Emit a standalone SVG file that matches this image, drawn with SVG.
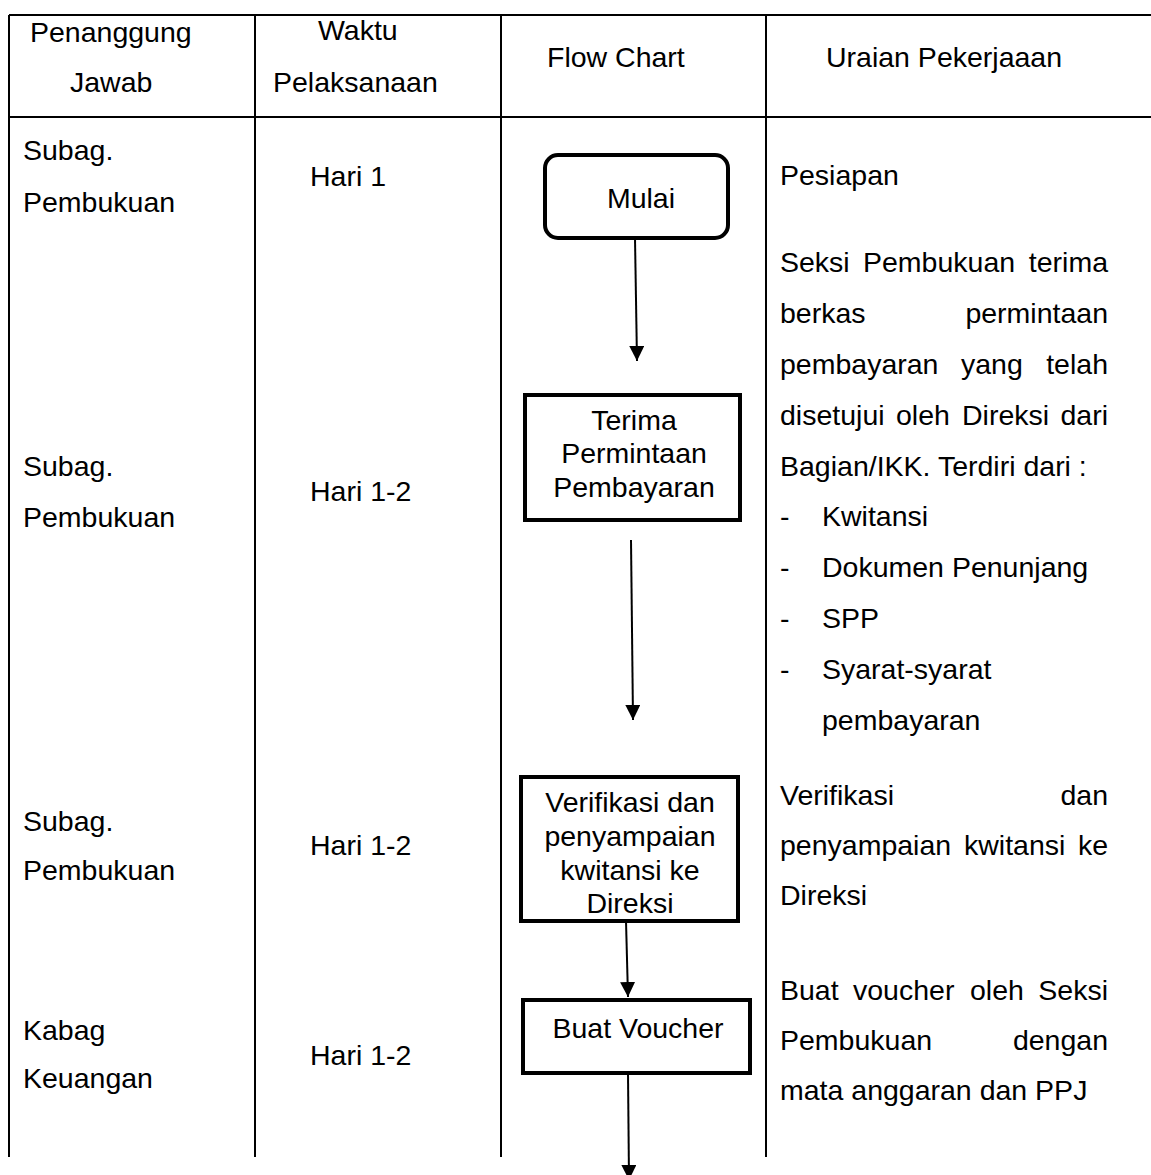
<svg xmlns="http://www.w3.org/2000/svg" width="1151" height="1175" viewBox="0 0 1151 1175">
<style>
.t{font-family:"Liberation Sans",Arial,sans-serif;font-size:28.5px;fill:#000}
.m{text-anchor:middle}
.e{text-anchor:end}
.grid{stroke:#000;stroke-width:2;fill:none}
.box{fill:#fff;stroke:#000;stroke-width:4}
.conn{stroke:#000;stroke-width:2;fill:none}
</style>
<defs>
<marker id="ah" markerUnits="userSpaceOnUse" markerWidth="16" markerHeight="16" refX="15" refY="7.5" orient="auto">
<path d="M0,0 L15,7.5 L0,15 z" fill="#000"/>
</marker>
</defs>
<rect width="1151" height="1175" fill="#fff"/>
<g id="table" class="grid">
<line x1="9" y1="15" x2="1151" y2="15"/>
<line x1="9" y1="117" x2="1151" y2="117"/>
<line x1="9" y1="15" x2="9" y2="1157"/>
<line x1="255" y1="15" x2="255" y2="1157"/>
<line x1="501" y1="15" x2="501" y2="1157"/>
<line x1="766" y1="15" x2="766" y2="1157"/>
</g>
<g id="header">
<text class="t" x="30" y="42">Penanggung</text>
<text class="t" x="70" y="92">Jawab</text>
<text class="t" x="318" y="40">Waktu</text>
<text class="t" x="273" y="92">Pelaksanaan</text>
<text class="t" x="547" y="67">Flow Chart</text>
<text class="t" x="826" y="67">Uraian Pekerjaaan</text>
</g>
<g id="col-pj">
<text class="t" x="23" y="160">Subag.</text>
<text class="t" x="23" y="212">Pembukuan</text>
<text class="t" x="23" y="476">Subag.</text>
<text class="t" x="23" y="527">Pembukuan</text>
<text class="t" x="23" y="831">Subag.</text>
<text class="t" x="23" y="880">Pembukuan</text>
<text class="t" x="23" y="1040">Kabag</text>
<text class="t" x="23" y="1088">Keuangan</text>
</g>
<g id="col-waktu">
<text class="t" x="310" y="186">Hari 1</text>
<text class="t" x="310" y="501">Hari 1-2</text>
<text class="t" x="310" y="855">Hari 1-2</text>
<text class="t" x="310" y="1065">Hari 1-2</text>
</g>
<g id="connectors">
<line class="conn" x1="635" y1="238" x2="637" y2="361" marker-end="url(#ah)"/>
<line class="conn" x1="631" y1="540" x2="633" y2="720" marker-end="url(#ah)"/>
<line class="conn" x1="626" y1="921" x2="628" y2="997" marker-end="url(#ah)"/>
<line class="conn" x1="628" y1="1073" x2="629" y2="1180" marker-end="url(#ah)"/>
</g>
<g id="node-mulai">
<rect class="box" x="545" y="155" width="183" height="83" rx="13"/>
<text class="t m" x="641" y="208">Mulai</text>
</g>
<g id="node-terima">
<rect class="box" x="525" y="395" width="215" height="125"/>
<text class="t m" x="634" y="430">Terima</text>
<text class="t m" x="634" y="463">Permintaan</text>
<text class="t m" x="634" y="497">Pembayaran</text>
</g>
<g id="node-verifikasi">
<rect class="box" x="521" y="777" width="217" height="144"/>
<text class="t m" x="630" y="812">Verifikasi dan</text>
<text class="t m" x="630" y="846">penyampaian</text>
<text class="t m" x="630" y="880">kwitansi ke</text>
<text class="t m" x="630" y="913">Direksi</text>
</g>
<g id="node-voucher">
<rect class="box" x="523" y="1000" width="227" height="73"/>
<text class="t m" x="638" y="1038">Buat Voucher</text>
</g>
<g id="col-uraian">
<text class="t" x="780" y="185">Pesiapan</text>
<text class="t" x="780" y="272">Seksi</text>
<text class="t" x="863" y="272">Pembukuan</text>
<text class="t e" x="1108" y="272">terima</text>
<text class="t" x="780" y="323">berkas</text>
<text class="t e" x="1108" y="323">permintaan</text>
<text class="t" x="780" y="374">pembayaran</text>
<text class="t" x="961" y="374">yang</text>
<text class="t e" x="1108" y="374">telah</text>
<text class="t" x="780" y="425">disetujui</text>
<text class="t" x="896" y="425">oleh</text>
<text class="t" x="962" y="425">Direksi</text>
<text class="t e" x="1108" y="425">dari</text>
<text class="t" x="780" y="476">Bagian/IKK. Terdiri dari :</text>
<text class="t" x="780" y="526">-</text>
<text class="t" x="822" y="526">Kwitansi</text>
<text class="t" x="780" y="577">-</text>
<text class="t" x="822" y="577">Dokumen Penunjang</text>
<text class="t" x="780" y="628">-</text>
<text class="t" x="822" y="628">SPP</text>
<text class="t" x="780" y="679">-</text>
<text class="t" x="822" y="679">Syarat-syarat</text>
<text class="t" x="822" y="730">pembayaran</text>
<text class="t" x="780" y="805">Verifikasi</text>
<text class="t e" x="1108" y="805">dan</text>
<text class="t" x="780" y="855">penyampaian</text>
<text class="t" x="964" y="855">kwitansi</text>
<text class="t e" x="1108" y="855">ke</text>
<text class="t" x="780" y="905">Direksi</text>
<text class="t" x="780" y="1000">Buat</text>
<text class="t" x="853" y="1000">voucher</text>
<text class="t" x="970" y="1000">oleh</text>
<text class="t e" x="1108" y="1000">Seksi</text>
<text class="t" x="780" y="1050">Pembukuan</text>
<text class="t e" x="1108" y="1050">dengan</text>
<text class="t" x="780" y="1100">mata anggaran dan PPJ</text>
</g>
</svg>
